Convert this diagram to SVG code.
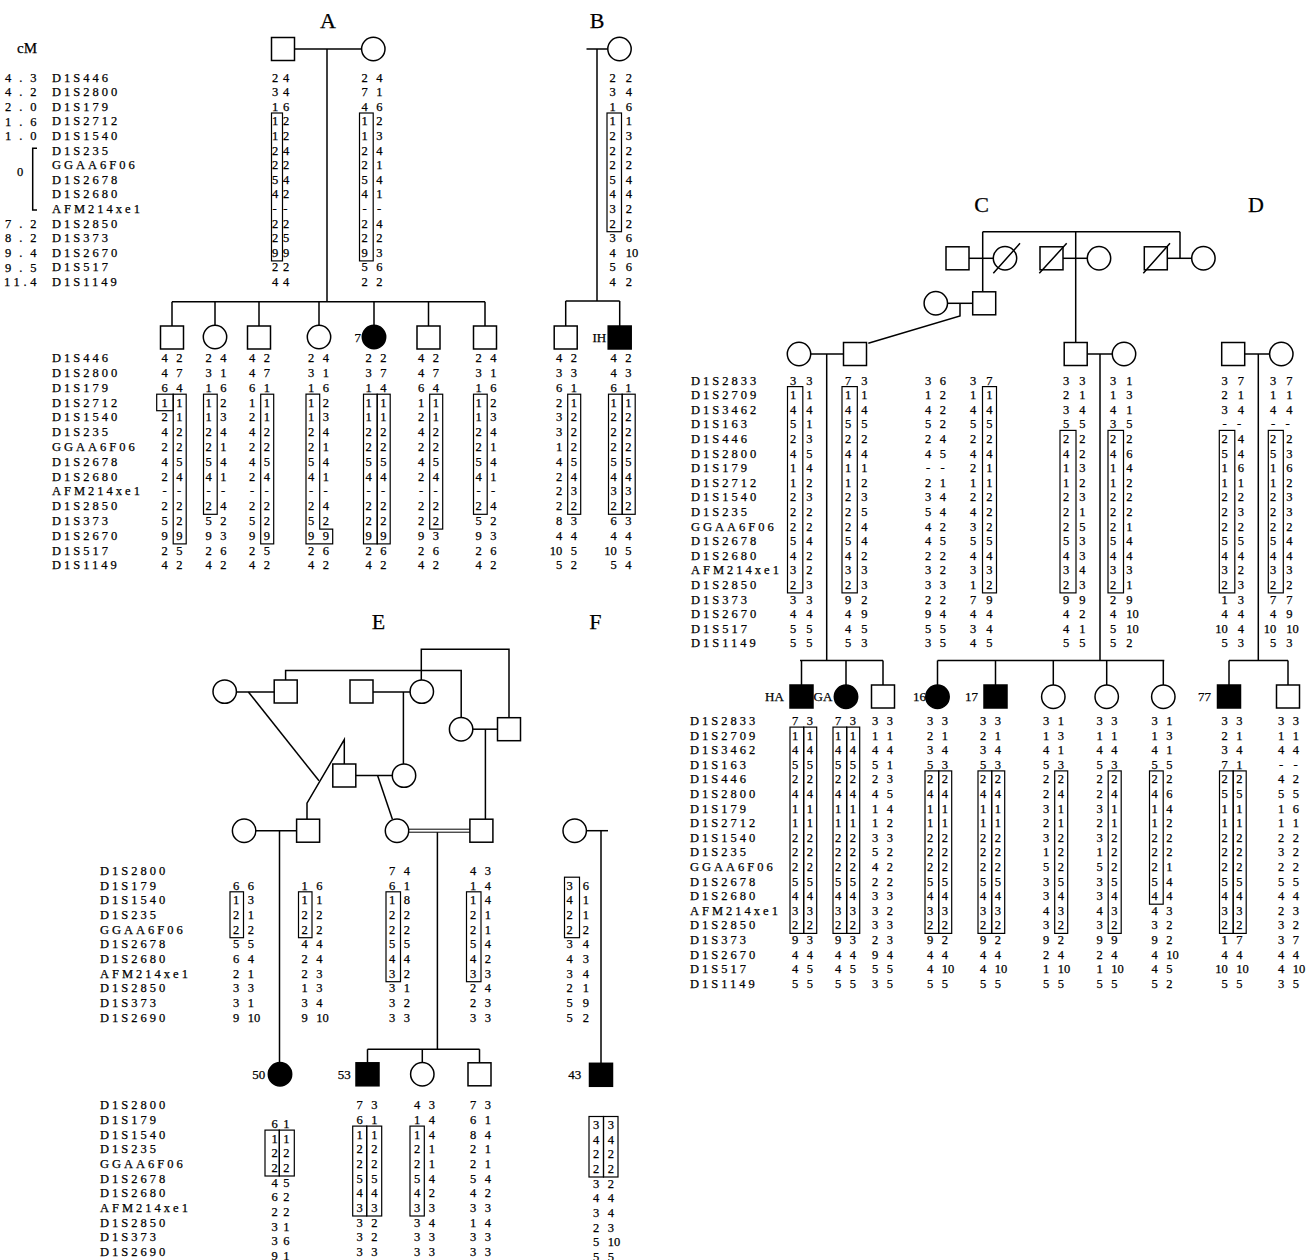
<svg xmlns="http://www.w3.org/2000/svg" width="1308" height="1260" viewBox="0 0 1308 1260">
<style>
text{font-family:"Liberation Serif","Times New Roman",serif;fill:#000;stroke:#000;stroke-width:0.25}
.ln{stroke:#000;stroke-width:1.5;fill:none}
.thin{stroke:#000;stroke-width:1;fill:none}
.sy{fill:#fff;stroke:#000;stroke-width:1.5}
.af{fill:#000;stroke:#000;stroke-width:1.5}
.hb{fill:none;stroke:#000;stroke-width:1.2}
.m text{font-size:12.5px;letter-spacing:3px}
.cm text{font-size:12.5px}
.g text{font-size:12.5px;word-spacing:5.3px}
.g.w text{word-spacing:6.9px}
.g.n text{word-spacing:1.6px}
.g.s12 text{word-spacing:2.6px}
.g text.h{word-spacing:7.3px}
.g.n text.h{word-spacing:3.5px}
.lb{font-size:22px;text-anchor:middle}
.pl{font-size:13px}
</style>
<rect width="1308" height="1260" fill="#fff"/>

<!-- panel letters -->
<g id="labels">
<text class="lb" x="328" y="28">A</text>
<text class="lb" x="597" y="28">B</text>
<text class="lb" x="981.7" y="212">C</text>
<text class="lb" x="1256" y="212">D</text>
<text class="lb" x="378.5" y="629">E</text>
<text class="lb" x="595.4" y="629">F</text>
<text x="17" y="53" font-size="15">cM</text>
</g>

<!-- cM column -->
<g class="cm">
<text x="5" y="81.7" textLength="31.5" lengthAdjust="spacing">4.3</text>
<text x="5" y="96.3" textLength="31.5" lengthAdjust="spacing">4.2</text>
<text x="5" y="110.9" textLength="31.5" lengthAdjust="spacing">2.0</text>
<text x="5" y="125.5" textLength="31.5" lengthAdjust="spacing">1.6</text>
<text x="5" y="140.1" textLength="31.5" lengthAdjust="spacing">1.0</text>
<text x="17" y="176">0</text>
<text x="5" y="227.7" textLength="31.5" lengthAdjust="spacing">7.2</text>
<text x="5" y="242.3" textLength="31.5" lengthAdjust="spacing">8.2</text>
<text x="5" y="256.9" textLength="31.5" lengthAdjust="spacing">9.4</text>
<text x="5" y="271.5" textLength="31.5" lengthAdjust="spacing">9.5</text>
<text x="4" y="286.1" textLength="32.5" lengthAdjust="spacing">11.4</text>
<path class="ln" d="M37 148.3H32.7V210H37"/>
</g>

<!-- marker name columns -->
<g class="m" transform="translate(52,81.7)">
<text>D1S446</text><text y="14.6">D1S2800</text><text y="29.2">D1S179</text><text y="43.8">D1S2712</text><text y="58.4">D1S1540</text><text y="73">D1S235</text><text y="87.6">GGAA6F06</text><text y="102.2">D1S2678</text><text y="116.8">D1S2680</text><text y="131.4">AFM214xe1</text><text y="146">D1S2850</text><text y="160.6">D1S373</text><text y="175.2">D1S2670</text><text y="189.8">D1S517</text><text y="204.4">D1S1149</text>
</g>
<g class="m" transform="translate(52,362.3)">
<text>D1S446</text><text y="14.8">D1S2800</text><text y="29.6">D1S179</text><text y="44.4">D1S2712</text><text y="59.2">D1S1540</text><text y="74">D1S235</text><text y="88.8">GGAA6F06</text><text y="103.6">D1S2678</text><text y="118.4">D1S2680</text><text y="133.2">AFM214xe1</text><text y="148">D1S2850</text><text y="162.8">D1S373</text><text y="177.6">D1S2670</text><text y="192.4">D1S517</text><text y="207.2">D1S1149</text>
</g>
<g class="m" transform="translate(691,384.5)">
<text>D1S2833</text><text y="14.6">D1S2709</text><text y="29.2">D1S3462</text><text y="43.8">D1S163</text><text y="58.4">D1S446</text><text y="73">D1S2800</text><text y="87.6">D1S179</text><text y="102.2">D1S2712</text><text y="116.8">D1S1540</text><text y="131.4">D1S235</text><text y="146">GGAA6F06</text><text y="160.6">D1S2678</text><text y="175.2">D1S2680</text><text y="189.8">AFM214xe1</text><text y="204.4">D1S2850</text><text y="219">D1S373</text><text y="233.6">D1S2670</text><text y="248.2">D1S517</text><text y="262.8">D1S1149</text>
</g>
<g class="m" transform="translate(690,725)">
<text>D1S2833</text><text y="14.6">D1S2709</text><text y="29.2">D1S3462</text><text y="43.8">D1S163</text><text y="58.4">D1S446</text><text y="73">D1S2800</text><text y="87.6">D1S179</text><text y="102.2">D1S2712</text><text y="116.8">D1S1540</text><text y="131.4">D1S235</text><text y="146">GGAA6F06</text><text y="160.6">D1S2678</text><text y="175.2">D1S2680</text><text y="189.8">AFM214xe1</text><text y="204.4">D1S2850</text><text y="219">D1S373</text><text y="233.6">D1S2670</text><text y="248.2">D1S517</text><text y="262.8">D1S1149</text>
</g>
<g class="m" transform="translate(100,875)">
<text>D1S2800</text><text y="14.7">D1S179</text><text y="29.3">D1S1540</text><text y="44">D1S235</text><text y="58.7">GGAA6F06</text><text y="73.3">D1S2678</text><text y="88">D1S2680</text><text y="102.7">AFM214xe1</text><text y="117.3">D1S2850</text><text y="132">D1S373</text><text y="146.7">D1S2690</text>
</g>
<g class="m" transform="translate(100,1109.3)">
<text>D1S2800</text><text y="14.7">D1S179</text><text y="29.3">D1S1540</text><text y="44">D1S235</text><text y="58.7">GGAA6F06</text><text y="73.3">D1S2678</text><text y="88">D1S2680</text><text y="102.7">AFM214xe1</text><text y="117.3">D1S2850</text><text y="132">D1S373</text><text y="146.7">D1S2690</text>
</g>

<!-- connectors -->
<g id="connectors" class="ln">
<path d="M294.5 49H361.6"/><path d="M327 49V301.7"/><path d="M172 301.7H485"/>
<path d="M172 301.7V326M215 301.7V325.3M259 301.7V326M319 301.7V325.3M374 301.7V325.3M428.5 301.7V326M485 301.7V326"/>
<path d="M586.5 49H607.8"/><path d="M597 49V301"/><path d="M565.7 301H619.7"/><path d="M565.7 301V326M619.7 301V326"/>
<path d="M982.7 231.7H1180"/><path d="M982.7 231.7V291.8"/><path d="M1075.7 231.7V342.5"/><path d="M1180 231.7V258.3"/>
<path d="M969 258.3H993.3"/><path d="M1063 258.3H1087.3"/><path d="M1167.3 258.3H1191.7"/>
<path d="M947.5 303.3H972.7"/><path d="M960 303.3V316L868.3 343.3"/>
<path d="M810.7 354H843.5"/><path d="M826.7 354V660.5"/>
<path d="M1087.2 354H1112.3"/><path d="M1100 354V660.5"/>
<path d="M800 660.5H883"/><path d="M801.5 660.5V685M846 660.5V685M883 660.5V685"/>
<path d="M937.5 660.5H1164.3"/><path d="M937.5 660.5V685M995.5 660.5V685M1053.3 660.5V685M1106.7 660.5V685M1163.3 660.5V685"/>
<path d="M1244.7 354H1269.6"/><path d="M1258.3 354V660.5"/><path d="M1229 660.5H1288"/><path d="M1229 660.5V685M1288 660.5V685"/>
<path d="M236.4 692H274.2"/><path d="M373 692H410.1"/><path d="M403.4 692V763.9"/>
<path d="M285.6 680V670.6H461.2V717.5"/><path d="M421.3 680V649.2H509V717.7"/>
<path d="M472.8 729.2H497.5"/><path d="M485.4 729.2V819.2"/>
<path d="M355.8 775.6H392.3"/><path d="M344.3 764V739.5L307 803.2V819.2"/>
<path d="M248.4 692L319 780.8"/><path d="M377.6 775.6L392.4 819.3"/>
<path d="M255.8 830.7H296.6"/><path d="M279.5 830.7V1062.6"/>
<path class="thin" d="M408.7 829.2H469.9M408.7 832.2H469.9"/>
<path d="M437.4 832.2V1049.3"/><path d="M367.5 1049.3H479.5"/><path d="M367.5 1049.3V1062.8M422.3 1049.3V1062.6M479.5 1049.3V1062.8"/>
<path d="M586.4 830.7H608"/><path d="M601 830.7V1063.3"/>
</g>

<!-- Panel A -->
<g id="A-I-1"><rect class="sy" x="271.5" y="37.5" width="23" height="23"/>
<g class="g n" transform="translate(272,81.7)"><text>2 4</text><text y="14.6">3 4</text><text y="29.2">1 6</text><text y="43.8">1 2</text><text y="58.4">1 2</text><text y="73">2 4</text><text y="87.6">2 2</text><text y="102.2">5 4</text><text y="116.8">4 2</text><text y="131.4" x="0.5" class="h">- -</text><text y="146">2 2</text><text y="160.6">2 5</text><text y="175.2">9 9</text><text y="189.8">2 2</text><text y="204.4">4 4</text>
<rect class="hb" x="-0.5" y="31.3" width="11" height="147.9"/></g></g>
<g id="A-I-2"><circle class="sy" cx="373.3" cy="49" r="11.7"/>
<g class="g" transform="translate(361.5,81.7)"><text>2 4</text><text y="14.6">7 1</text><text y="29.2">4 6</text><text y="43.8">1 2</text><text y="58.4">1 3</text><text y="73">2 4</text><text y="87.6">2 1</text><text y="102.2">5 4</text><text y="116.8">4 1</text><text y="131.4" x="1" class="h">- -</text><text y="146">2 4</text><text y="160.6">2 2</text><text y="175.2">9 3</text><text y="189.8">5 6</text><text y="204.4">2 2</text>
<rect class="hb" x="-2" y="31.3" width="13.7" height="147.9"/></g></g>

<g id="A-II-1"><rect class="sy" x="160.5" y="326" width="23" height="23"/>
<g class="g" transform="translate(161.5,362.3)"><text>4 2</text><text y="14.8">4 7</text><text y="29.6">6 4</text><text y="44.4">1 1</text><text y="59.2">2 1</text><text y="74">4 2</text><text y="88.8">2 2</text><text y="103.6">4 5</text><text y="118.4">2 4</text><text y="133.2" x="1" class="h">- -</text><text y="148">2 2</text><text y="162.8">5 2</text><text y="177.6">9 9</text><text y="192.4">2 5</text><text y="207.2">4 2</text>
<rect class="hb" x="11.7" y="31.9" width="13" height="149.7"/><rect class="hb" x="-4.8" y="31.9" width="16.5" height="16.5"/></g></g>
<g id="A-II-2"><circle class="sy" cx="215" cy="337" r="11.7"/>
<g class="g" transform="translate(205.5,362.3)"><text>2 4</text><text y="14.8">3 1</text><text y="29.6">1 6</text><text y="44.4">1 2</text><text y="59.2">1 3</text><text y="74">2 4</text><text y="88.8">2 1</text><text y="103.6">5 4</text><text y="118.4">4 1</text><text y="133.2" x="1" class="h">- -</text><text y="148">2 4</text><text y="162.8">5 2</text><text y="177.6">9 3</text><text y="192.4">2 6</text><text y="207.2">4 2</text>
<rect class="hb" x="-2" y="31.9" width="13.7" height="120.1"/></g></g>
<g id="A-II-3"><rect class="sy" x="247.5" y="326" width="23" height="23"/>
<g class="g" transform="translate(249,362.3)"><text>4 2</text><text y="14.8">4 7</text><text y="29.6">6 1</text><text y="44.4">1 1</text><text y="59.2">2 1</text><text y="74">4 2</text><text y="88.8">2 2</text><text y="103.6">4 5</text><text y="118.4">2 4</text><text y="133.2" x="1" class="h">- -</text><text y="148">2 2</text><text y="162.8">5 2</text><text y="177.6">9 9</text><text y="192.4">2 5</text><text y="207.2">4 2</text>
<rect class="hb" x="11.7" y="31.9" width="13" height="149.7"/></g></g>
<g id="A-II-4"><circle class="sy" cx="319" cy="337" r="11.7"/>
<g class="g" transform="translate(308,362.3)"><text>2 4</text><text y="14.8">3 1</text><text y="29.6">1 6</text><text y="44.4">1 2</text><text y="59.2">1 3</text><text y="74">2 4</text><text y="88.8">2 1</text><text y="103.6">5 4</text><text y="118.4">4 1</text><text y="133.2" x="1" class="h">- -</text><text y="148">2 4</text><text y="162.8">5 2</text><text y="177.6">9 9</text><text y="192.4">2 6</text><text y="207.2">4 2</text>
<polygon class="hb" points="-2,31.9 11.7,31.9 11.7,166.8 24.7,166.8 24.7,181.6 -2,181.6"/></g></g>
<g id="A-II-5"><circle class="af" cx="374" cy="337" r="11.7"/><text class="pl" x="354.5" y="342">7</text>
<g class="g" transform="translate(365.5,362.3)"><text>2 2</text><text y="14.8">3 7</text><text y="29.6">1 4</text><text y="44.4">1 1</text><text y="59.2">1 1</text><text y="74">2 2</text><text y="88.8">2 2</text><text y="103.6">5 5</text><text y="118.4">4 4</text><text y="133.2" x="1" class="h">- -</text><text y="148">2 2</text><text y="162.8">2 2</text><text y="177.6">9 9</text><text y="192.4">2 6</text><text y="207.2">4 2</text>
<rect class="hb" x="-2" y="31.9" width="13.7" height="149.7"/><rect class="hb" x="11.7" y="31.9" width="13" height="149.7"/></g></g>
<g id="A-II-6"><rect class="sy" x="417" y="326" width="23" height="23"/>
<g class="g" transform="translate(418,362.3)"><text>4 2</text><text y="14.8">4 7</text><text y="29.6">6 4</text><text y="44.4">1 1</text><text y="59.2">2 1</text><text y="74">4 2</text><text y="88.8">2 2</text><text y="103.6">4 5</text><text y="118.4">2 4</text><text y="133.2" x="1" class="h">- -</text><text y="148">2 2</text><text y="162.8">2 2</text><text y="177.6">9 3</text><text y="192.4">2 6</text><text y="207.2">4 2</text>
<rect class="hb" x="11.7" y="31.9" width="13" height="134.9"/></g></g>
<g id="A-II-7"><rect class="sy" x="473.5" y="326" width="23" height="23"/>
<g class="g" transform="translate(475.5,362.3)"><text>2 4</text><text y="14.8">3 1</text><text y="29.6">1 6</text><text y="44.4">1 2</text><text y="59.2">1 3</text><text y="74">2 4</text><text y="88.8">2 1</text><text y="103.6">5 4</text><text y="118.4">4 1</text><text y="133.2" x="1" class="h">- -</text><text y="148">2 4</text><text y="162.8">5 2</text><text y="177.6">9 3</text><text y="192.4">2 6</text><text y="207.2">4 2</text>
<rect class="hb" x="-2" y="31.9" width="13.7" height="120.1"/></g></g>

<!-- Panel B -->
<g id="B-I-2"><circle class="sy" cx="619.5" cy="49" r="11.7"/>
<g class="g w" transform="translate(609.5,81.7)"><text>2 2</text><text y="14.6">3 4</text><text y="29.2">1 6</text><text y="43.8">1 1</text><text y="58.4">2 3</text><text y="73">2 2</text><text y="87.6">2 2</text><text y="102.2">5 4</text><text y="116.8">4 4</text><text y="131.4">3 2</text><text y="146">2 2</text><text y="160.6">3 6</text><text y="175.2">4 10</text><text y="189.8">5 6</text><text y="204.4">4 2</text>
<rect class="hb" x="-2.5" y="31.3" width="14.5" height="118.7"/></g></g>
<g id="B-II-1"><rect class="sy" x="554.2" y="326" width="23" height="23"/>
<g class="g" transform="translate(556,362.3)"><text>4 2</text><text y="14.8">3 3</text><text y="29.6">6 1</text><text y="44.4">2 1</text><text y="59.2">3 2</text><text y="74">3 2</text><text y="88.8">1 2</text><text y="103.6">4 5</text><text y="118.4">2 4</text><text y="133.2">2 3</text><text y="148">2 2</text><text y="162.8">8 3</text><text y="177.6">4 4</text><text y="192.4" x="-6.25">10 5</text><text y="207.2">5 2</text>
<rect class="hb" x="11.7" y="31.9" width="13" height="120.1"/></g></g>
<g id="B-II-2"><rect class="af" x="608.2" y="326" width="23" height="23"/><text class="pl" x="592.5" y="342">IH</text>
<g class="g" transform="translate(610.5,362.3)"><text>4 2</text><text y="14.8">4 3</text><text y="29.6">6 1</text><text y="44.4">1 1</text><text y="59.2">2 2</text><text y="74">2 2</text><text y="88.8">2 2</text><text y="103.6">5 5</text><text y="118.4">4 4</text><text y="133.2">3 3</text><text y="148">2 2</text><text y="162.8">6 3</text><text y="177.6">4 4</text><text y="192.4" x="-6.25">10 5</text><text y="207.2">5 4</text>
<rect class="hb" x="-2" y="31.9" width="13.7" height="120.1"/><rect class="hb" x="11.7" y="31.9" width="13" height="120.1"/></g></g>

<!-- Panel C upper generations -->
<g id="C-I-1"><rect class="sy" x="946" y="246.8" width="23" height="23"/></g>
<g id="C-I-2"><circle class="sy" cx="1005" cy="258.3" r="11.7"/></g>
<g id="C-I-3"><rect class="sy" x="1040" y="246.8" width="23" height="23"/></g>
<g id="C-I-4"><circle class="sy" cx="1099" cy="258.3" r="11.7"/></g>
<g id="C-I-5"><rect class="sy" x="1144.3" y="246.8" width="23" height="23"/></g>
<g id="C-I-6"><circle class="sy" cx="1203.4" cy="258.3" r="11.7"/></g>
<g id="C-II-1"><circle class="sy" cx="935.8" cy="303.3" r="11.7"/></g>
<g id="C-II-2"><rect class="sy" x="972.7" y="291.8" width="23" height="23"/></g>
<g id="C-slashes" class="ln"><path d="M993.3 273.3L1020 243.3M1039.3 273.3L1066.7 243.3M1143.3 273.3L1170 243.3"/></g>

<g id="C-III-1"><circle class="sy" cx="799" cy="354" r="11.7"/>
<g class="g w" transform="translate(790,384.5)"><text>3 3</text><text y="14.6">1 1</text><text y="29.2">4 4</text><text y="43.8">5 1</text><text y="58.4">2 3</text><text y="73">4 5</text><text y="87.6">1 4</text><text y="102.2">1 2</text><text y="116.8">2 3</text><text y="131.4">2 2</text><text y="146">2 2</text><text y="160.6">5 4</text><text y="175.2">4 2</text><text y="189.8">3 2</text><text y="204.4">2 3</text><text y="219">3 3</text><text y="233.6">4 4</text><text y="248.2">5 5</text><text y="262.8">5 5</text>
<rect class="hb" x="-2.5" y="2.1" width="15.3" height="206.3"/></g></g>
<g id="C-III-2"><rect class="sy" x="843.5" y="342.5" width="23" height="23"/>
<g class="g w" transform="translate(845,384.5)"><text>7 3</text><text y="14.6">1 1</text><text y="29.2">4 4</text><text y="43.8">5 5</text><text y="58.4">2 2</text><text y="73">4 4</text><text y="87.6">1 1</text><text y="102.2">1 2</text><text y="116.8">2 3</text><text y="131.4">2 5</text><text y="146">2 4</text><text y="160.6">5 4</text><text y="175.2">4 2</text><text y="189.8">3 3</text><text y="204.4">2 3</text><text y="219">9 2</text><text y="233.6">4 9</text><text y="248.2">4 5</text><text y="262.8">5 3</text>
<rect class="hb" x="-3" y="2.1" width="15.3" height="206.3"/></g></g>
<g id="C-hap-3">
<g class="g" transform="translate(925,384.5)"><text>3 6</text><text y="14.6">1 2</text><text y="29.2">4 2</text><text y="43.8">5 2</text><text y="58.4">2 4</text><text y="73">4 5</text><text y="87.6" x="1" class="h">- -</text><text y="102.2">2 1</text><text y="116.8">3 4</text><text y="131.4">5 4</text><text y="146">4 2</text><text y="160.6">4 5</text><text y="175.2">2 2</text><text y="189.8">3 2</text><text y="204.4">3 3</text><text y="219">2 2</text><text y="233.6">9 4</text><text y="248.2">5 5</text><text y="262.8">3 5</text></g></g>
<g id="C-hap-4">
<g class="g w" transform="translate(970,384.5)"><text>3 7</text><text y="14.6">1 1</text><text y="29.2">4 4</text><text y="43.8">5 5</text><text y="58.4">2 2</text><text y="73">4 4</text><text y="87.6">2 1</text><text y="102.2">1 1</text><text y="116.8">2 2</text><text y="131.4">4 2</text><text y="146">3 2</text><text y="160.6">5 5</text><text y="175.2">4 4</text><text y="189.8">3 3</text><text y="204.4">1 2</text><text y="219">7 9</text><text y="233.6">4 4</text><text y="248.2">3 4</text><text y="262.8">4 5</text>
<rect class="hb" x="12.5" y="2.1" width="14" height="206.3"/></g></g>
<g id="C-III-3"><rect class="sy" x="1064.2" y="342.5" width="23" height="23"/>
<g class="g w" transform="translate(1063,384.5)"><text>3 3</text><text y="14.6">2 1</text><text y="29.2">3 4</text><text y="43.8">5 5</text><text y="58.4">2 2</text><text y="73">4 2</text><text y="87.6">1 3</text><text y="102.2">1 2</text><text y="116.8">2 3</text><text y="131.4">2 1</text><text y="146">2 5</text><text y="160.6">5 3</text><text y="175.2">4 3</text><text y="189.8">3 4</text><text y="204.4">2 3</text><text y="219">9 9</text><text y="233.6">4 2</text><text y="248.2">4 1</text><text y="262.8">5 5</text>
<rect class="hb" x="-3" y="45.9" width="16" height="162.5"/></g></g>
<g id="C-III-4"><circle class="sy" cx="1124" cy="354" r="11.7"/>
<g class="g w" transform="translate(1110,384.5)"><text>3 1</text><text y="14.6">1 3</text><text y="29.2">4 1</text><text y="43.8">3 5</text><text y="58.4">2 2</text><text y="73">4 6</text><text y="87.6">1 4</text><text y="102.2">1 2</text><text y="116.8">2 2</text><text y="131.4">2 2</text><text y="146">2 1</text><text y="160.6">5 4</text><text y="175.2">4 4</text><text y="189.8">3 3</text><text y="204.4">2 1</text><text y="219">2 9</text><text y="233.6">4 10</text><text y="248.2">5 10</text><text y="262.8">5 2</text>
<rect class="hb" x="-2" y="45.9" width="15.5" height="162.5"/></g></g>

<!-- Panel D parents -->
<g id="D-I-1"><rect class="sy" x="1221.7" y="342.5" width="23" height="23"/>
<g class="g w" transform="translate(1221.5,384.5)"><text>3 7</text><text y="14.6">2 1</text><text y="29.2">3 4</text><text y="43.8" x="1" class="h">- -</text><text y="58.4">2 4</text><text y="73">5 4</text><text y="87.6">1 6</text><text y="102.2">1 1</text><text y="116.8">2 2</text><text y="131.4">2 3</text><text y="146">2 2</text><text y="160.6">5 5</text><text y="175.2">4 4</text><text y="189.8">3 2</text><text y="204.4">2 3</text><text y="219">1 3</text><text y="233.6">4 4</text><text y="248.2" x="-6.25">10 4</text><text y="262.8">5 3</text>
<rect class="hb" x="-2.2" y="45.9" width="15.5" height="162.5"/></g></g>
<g id="D-I-2"><circle class="sy" cx="1281.3" cy="354" r="11.7"/>
<g class="g w" transform="translate(1270,384.5)"><text>3 7</text><text y="14.6">1 1</text><text y="29.2">4 4</text><text y="43.8" x="1" class="h">- -</text><text y="58.4">2 2</text><text y="73">5 3</text><text y="87.6">1 6</text><text y="102.2">1 2</text><text y="116.8">2 3</text><text y="131.4">2 3</text><text y="146">2 2</text><text y="160.6">5 4</text><text y="175.2">4 4</text><text y="189.8">3 3</text><text y="204.4">2 2</text><text y="219">7 7</text><text y="233.6">4 9</text><text y="248.2" x="-6.25">10 10</text><text y="262.8">5 3</text>
<rect class="hb" x="-1.7" y="45.9" width="15" height="162.5"/></g></g>

<!-- Panel C children -->
<g id="C-IV-HA"><rect class="af" x="790" y="685" width="23" height="23"/><text class="pl" x="765" y="701.2">HA</text>
<g class="g" transform="translate(792,725)"><text>7 3</text><text y="14.6">1 1</text><text y="29.2">4 4</text><text y="43.8">5 5</text><text y="58.4">2 2</text><text y="73">4 4</text><text y="87.6">1 1</text><text y="102.2">1 1</text><text y="116.8">2 2</text><text y="131.4">2 2</text><text y="146">2 2</text><text y="160.6">5 5</text><text y="175.2">4 4</text><text y="189.8">3 3</text><text y="204.4">2 2</text><text y="219">9 3</text><text y="233.6">4 4</text><text y="248.2">4 5</text><text y="262.8">5 5</text>
<rect class="hb" x="-2" y="2.1" width="13.7" height="206.3"/><rect class="hb" x="11.7" y="2.1" width="13" height="206.3"/></g></g>
<g id="C-IV-GA"><circle class="af" cx="846" cy="696.7" r="11.7"/><text class="pl" x="813.5" y="701.2">GA</text>
<g class="g" transform="translate(835,725)"><text>7 3</text><text y="14.6">1 1</text><text y="29.2">4 4</text><text y="43.8">5 5</text><text y="58.4">2 2</text><text y="73">4 4</text><text y="87.6">1 1</text><text y="102.2">1 1</text><text y="116.8">2 2</text><text y="131.4">2 2</text><text y="146">2 2</text><text y="160.6">5 5</text><text y="175.2">4 4</text><text y="189.8">3 3</text><text y="204.4">2 2</text><text y="219">9 3</text><text y="233.6">4 4</text><text y="248.2">4 5</text><text y="262.8">5 5</text>
<rect class="hb" x="-2" y="2.1" width="13.7" height="206.3"/><rect class="hb" x="11.7" y="2.1" width="13" height="206.3"/></g></g>
<g id="C-IV-3"><rect class="sy" x="871.5" y="685" width="23" height="23"/>
<g class="g" transform="translate(872,725)"><text>3 3</text><text y="14.6">1 1</text><text y="29.2">4 4</text><text y="43.8">5 1</text><text y="58.4">2 3</text><text y="73">4 5</text><text y="87.6">1 4</text><text y="102.2">1 2</text><text y="116.8">3 3</text><text y="131.4">5 2</text><text y="146">4 2</text><text y="160.6">2 2</text><text y="175.2">3 3</text><text y="189.8">3 2</text><text y="204.4">3 3</text><text y="219">2 3</text><text y="233.6">9 4</text><text y="248.2">5 5</text><text y="262.8">3 5</text></g></g>
<g id="C-IV-16"><circle class="af" cx="937.5" cy="696.7" r="11.7"/><text class="pl" x="913" y="701.2">16</text>
<g class="g" transform="translate(927,725)"><text>3 3</text><text y="14.6">2 1</text><text y="29.2">3 4</text><text y="43.8">5 3</text><text y="58.4">2 2</text><text y="73">4 4</text><text y="87.6">1 1</text><text y="102.2">1 1</text><text y="116.8">2 2</text><text y="131.4">2 2</text><text y="146">2 2</text><text y="160.6">5 5</text><text y="175.2">4 4</text><text y="189.8">3 3</text><text y="204.4">2 2</text><text y="219">9 2</text><text y="233.6">4 4</text><text y="248.2">4 10</text><text y="262.8">5 5</text>
<rect class="hb" x="-2" y="45.9" width="13.7" height="162.5"/><rect class="hb" x="11.7" y="45.9" width="13" height="162.5"/></g></g>
<g id="C-IV-17"><rect class="af" x="984" y="685" width="23" height="23"/><text class="pl" x="965" y="701.2">17</text>
<g class="g" transform="translate(980,725)"><text>3 3</text><text y="14.6">2 1</text><text y="29.2">3 4</text><text y="43.8">5 3</text><text y="58.4">2 2</text><text y="73">4 4</text><text y="87.6">1 1</text><text y="102.2">1 1</text><text y="116.8">2 2</text><text y="131.4">2 2</text><text y="146">2 2</text><text y="160.6">5 5</text><text y="175.2">4 4</text><text y="189.8">3 3</text><text y="204.4">2 2</text><text y="219">9 2</text><text y="233.6">4 4</text><text y="248.2">4 10</text><text y="262.8">5 5</text>
<rect class="hb" x="-2" y="45.9" width="13.7" height="162.5"/><rect class="hb" x="11.7" y="45.9" width="13" height="162.5"/></g></g>
<g id="C-IV-6"><circle class="sy" cx="1053.3" cy="696.7" r="11.7"/>
<g class="g" transform="translate(1043,725)"><text>3 1</text><text y="14.6">1 3</text><text y="29.2">4 1</text><text y="43.8">5 3</text><text y="58.4">2 2</text><text y="73">2 4</text><text y="87.6">3 1</text><text y="102.2">2 1</text><text y="116.8">3 2</text><text y="131.4">1 2</text><text y="146">5 2</text><text y="160.6">3 5</text><text y="175.2">3 4</text><text y="189.8">4 3</text><text y="204.4">3 2</text><text y="219">9 2</text><text y="233.6">2 4</text><text y="248.2">1 10</text><text y="262.8">5 5</text>
<rect class="hb" x="11.7" y="45.9" width="13" height="162.5"/></g></g>
<g id="C-IV-7"><circle class="sy" cx="1106.7" cy="696.7" r="11.7"/>
<g class="g" transform="translate(1096.5,725)"><text>3 3</text><text y="14.6">1 1</text><text y="29.2">4 4</text><text y="43.8">5 3</text><text y="58.4">2 2</text><text y="73">2 4</text><text y="87.6">3 1</text><text y="102.2">2 1</text><text y="116.8">3 2</text><text y="131.4">1 2</text><text y="146">5 2</text><text y="160.6">3 5</text><text y="175.2">3 4</text><text y="189.8">4 3</text><text y="204.4">3 2</text><text y="219">9 9</text><text y="233.6">2 4</text><text y="248.2">1 10</text><text y="262.8">5 5</text>
<rect class="hb" x="11.7" y="45.9" width="13" height="162.5"/></g></g>
<g id="C-IV-8"><circle class="sy" cx="1163.3" cy="696.7" r="11.7"/>
<g class="g" transform="translate(1151.5,725)"><text>3 1</text><text y="14.6">1 3</text><text y="29.2">4 1</text><text y="43.8">5 5</text><text y="58.4">2 2</text><text y="73">4 6</text><text y="87.6">1 4</text><text y="102.2">1 2</text><text y="116.8">2 2</text><text y="131.4">2 2</text><text y="146">2 1</text><text y="160.6">5 4</text><text y="175.2">4 4</text><text y="189.8">4 3</text><text y="204.4">3 2</text><text y="219">9 2</text><text y="233.6">4 10</text><text y="248.2">4 5</text><text y="262.8">5 2</text>
<rect class="hb" x="-2" y="45.9" width="13.7" height="133.3"/></g></g>

<!-- Panel D children -->
<g id="D-II-77"><rect class="af" x="1217.5" y="685" width="23" height="23"/><text class="pl" x="1198" y="701.2">77</text>
<g class="g" transform="translate(1221.5,725)"><text>3 3</text><text y="14.6">2 1</text><text y="29.2">3 4</text><text y="43.8">7 1</text><text y="58.4">2 2</text><text y="73">5 5</text><text y="87.6">1 1</text><text y="102.2">1 1</text><text y="116.8">2 2</text><text y="131.4">2 2</text><text y="146">2 2</text><text y="160.6">5 5</text><text y="175.2">4 4</text><text y="189.8">3 3</text><text y="204.4">2 2</text><text y="219">1 7</text><text y="233.6">4 4</text><text y="248.2" x="-6.25">10 10</text><text y="262.8">5 5</text>
<rect class="hb" x="-2" y="45.9" width="13.7" height="162.5"/><rect class="hb" x="11.7" y="45.9" width="13" height="162.5"/></g></g>
<g id="D-II-2"><rect class="sy" x="1276.5" y="685" width="23" height="23"/>
<g class="g" transform="translate(1278,725)"><text>3 3</text><text y="14.6">1 1</text><text y="29.2">4 4</text><text y="43.8" x="1" class="h">- -</text><text y="58.4">4 2</text><text y="73">5 5</text><text y="87.6">1 6</text><text y="102.2">1 1</text><text y="116.8">2 2</text><text y="131.4">3 2</text><text y="146">2 2</text><text y="160.6">5 5</text><text y="175.2">4 4</text><text y="189.8">2 3</text><text y="204.4">3 2</text><text y="219">3 7</text><text y="233.6">4 4</text><text y="248.2">4 10</text><text y="262.8">3 5</text></g></g>

<!-- Panel E -->
<g id="E-I-1"><circle class="sy" cx="224.7" cy="691.6" r="11.7"/></g>
<g id="E-I-2"><rect class="sy" x="274.2" y="680" width="23" height="23"/></g>
<g id="E-I-3"><rect class="sy" x="350" y="680" width="23" height="23"/></g>
<g id="E-I-4"><circle class="sy" cx="421.8" cy="691.6" r="11.7"/></g>
<g id="E-II-4"><circle class="sy" cx="461.1" cy="729.2" r="11.7"/></g>
<g id="E-II-5"><rect class="sy" x="497.5" y="717.7" width="23" height="23"/></g>
<g id="E-II-1"><rect class="sy" x="332.8" y="764" width="23" height="23"/></g>
<g id="E-II-2"><circle class="sy" cx="404" cy="775.6" r="11.7"/></g>

<g id="E-III-1"><circle class="sy" cx="244.1" cy="830.7" r="11.7"/>
<g class="g" transform="translate(233,875)"><text y="14.7">6 6</text><text y="29.3">1 3</text><text y="44">2 1</text><text y="58.7">2 2</text><text y="73.3">5 5</text><text y="88">6 4</text><text y="102.7">2 1</text><text y="117.3">3 3</text><text y="132">3 1</text><text y="146.7">9 10</text>
<rect class="hb" x="-3" y="16.8" width="13.5" height="45.9"/></g></g>
<g id="E-III-2"><rect class="sy" x="296.6" y="819.2" width="23" height="23"/>
<g class="g" transform="translate(301.5,875)"><text y="14.7">1 6</text><text y="29.3">1 1</text><text y="44">2 2</text><text y="58.7">2 2</text><text y="73.3">4 4</text><text y="88">2 4</text><text y="102.7">2 3</text><text y="117.3">1 3</text><text y="132">3 4</text><text y="146.7">9 10</text>
<rect class="hb" x="-3" y="16.8" width="13.5" height="45.9"/></g></g>
<g id="E-III-3"><circle class="sy" cx="397" cy="830.7" r="11.7"/>
<g class="g" transform="translate(389,875)"><text>7 4</text><text y="14.7">6 1</text><text y="29.3">1 8</text><text y="44">2 2</text><text y="58.7">2 2</text><text y="73.3">5 5</text><text y="88">4 4</text><text y="102.7">3 2</text><text y="117.3">3 1</text><text y="132">3 2</text><text y="146.7">3 3</text>
<rect class="hb" x="-3" y="16.8" width="14.5" height="89.9"/></g></g>
<g id="E-III-4"><rect class="sy" x="469.9" y="819.2" width="23" height="23"/>
<g class="g" transform="translate(470,875)"><text>4 3</text><text y="14.7">1 4</text><text y="29.3">1 4</text><text y="44">2 1</text><text y="58.7">2 1</text><text y="73.3">5 4</text><text y="88">4 2</text><text y="102.7">3 3</text><text y="117.3">2 4</text><text y="132">2 3</text><text y="146.7">3 3</text>
<rect class="hb" x="-3.5" y="16.8" width="14.5" height="89.9"/></g></g>

<g id="E-IV-50"><circle class="af" cx="280" cy="1074.3" r="11.7"/><text class="pl" x="252.3" y="1079">50</text>
<g class="g s12" transform="translate(271.4,1113.3)"><text y="14.7">6 1</text><text y="29.3">1 1</text><text y="44">2 2</text><text y="58.7">2 2</text><text y="73.3">4 5</text><text y="88">6 2</text><text y="102.7">2 2</text><text y="117.3">3 1</text><text y="132">3 6</text><text y="146.7">9 1</text>
<rect class="hb" x="-6.4" y="16.8" width="14.3" height="45.9"/><rect class="hb" x="7.9" y="16.8" width="15" height="45.9"/></g></g>
<g id="E-IV-53"><rect class="af" x="356" y="1062.8" width="23" height="23"/><text class="pl" x="337.7" y="1079">53</text>
<g class="g" transform="translate(356.5,1109.3)"><text>7 3</text><text y="14.7">6 1</text><text y="29.3">1 1</text><text y="44">2 2</text><text y="58.7">2 2</text><text y="73.3">5 5</text><text y="88">4 4</text><text y="102.7">3 3</text><text y="117.3">3 2</text><text y="132">3 2</text><text y="146.7">3 3</text>
<rect class="hb" x="-3.8" y="16.8" width="14" height="89.9"/><rect class="hb" x="10.2" y="16.8" width="15" height="89.9"/></g></g>
<g id="E-IV-3"><circle class="sy" cx="422.3" cy="1074.3" r="11.7"/>
<g class="g" transform="translate(414,1109.3)"><text>4 3</text><text y="14.7">1 4</text><text y="29.3">1 4</text><text y="44">2 1</text><text y="58.7">2 1</text><text y="73.3">5 4</text><text y="88">4 2</text><text y="102.7">3 3</text><text y="117.3">3 4</text><text y="132">3 3</text><text y="146.7">3 3</text>
<rect class="hb" x="-4" y="16.8" width="14.3" height="89.9"/></g></g>
<g id="E-IV-4"><rect class="sy" x="468" y="1062.8" width="23" height="23"/>
<g class="g" transform="translate(470,1109.3)"><text>7 3</text><text y="14.7">6 1</text><text y="29.3">8 4</text><text y="44">2 1</text><text y="58.7">2 1</text><text y="73.3">5 4</text><text y="88">4 2</text><text y="102.7">3 3</text><text y="117.3">1 4</text><text y="132">3 3</text><text y="146.7">3 3</text></g></g>

<!-- Panel F -->
<g id="F-I-1"><circle class="sy" cx="574.7" cy="830.7" r="11.7"/>
<g class="g w" transform="translate(566.5,875)"><text y="14.7">3 6</text><text y="29.3">4 1</text><text y="44">2 1</text><text y="58.7">2 2</text><text y="73.3">3 4</text><text y="88">4 3</text><text y="102.7">3 4</text><text y="117.3">2 1</text><text y="132">5 9</text><text y="146.7">5 2</text>
<rect class="hb" x="-2" y="2.2" width="15" height="60.5"/></g></g>
<g id="F-II-43"><rect class="af" x="589.5" y="1063.3" width="23" height="23"/><text class="pl" x="568.3" y="1079">43</text>
<g class="g" transform="translate(593,1114.3)"><text y="14.7">3 3</text><text y="29.3">4 4</text><text y="44">2 2</text><text y="58.7">2 2</text><text y="73.3">3 2</text><text y="88">4 4</text><text y="102.7">3 4</text><text y="117.3">2 3</text><text y="132">5 10</text><text y="146.7">5 5</text>
<rect class="hb" x="-4" y="2.2" width="14.5" height="60.5"/><rect class="hb" x="10.5" y="2.2" width="14.5" height="60.5"/></g></g>
</svg>
